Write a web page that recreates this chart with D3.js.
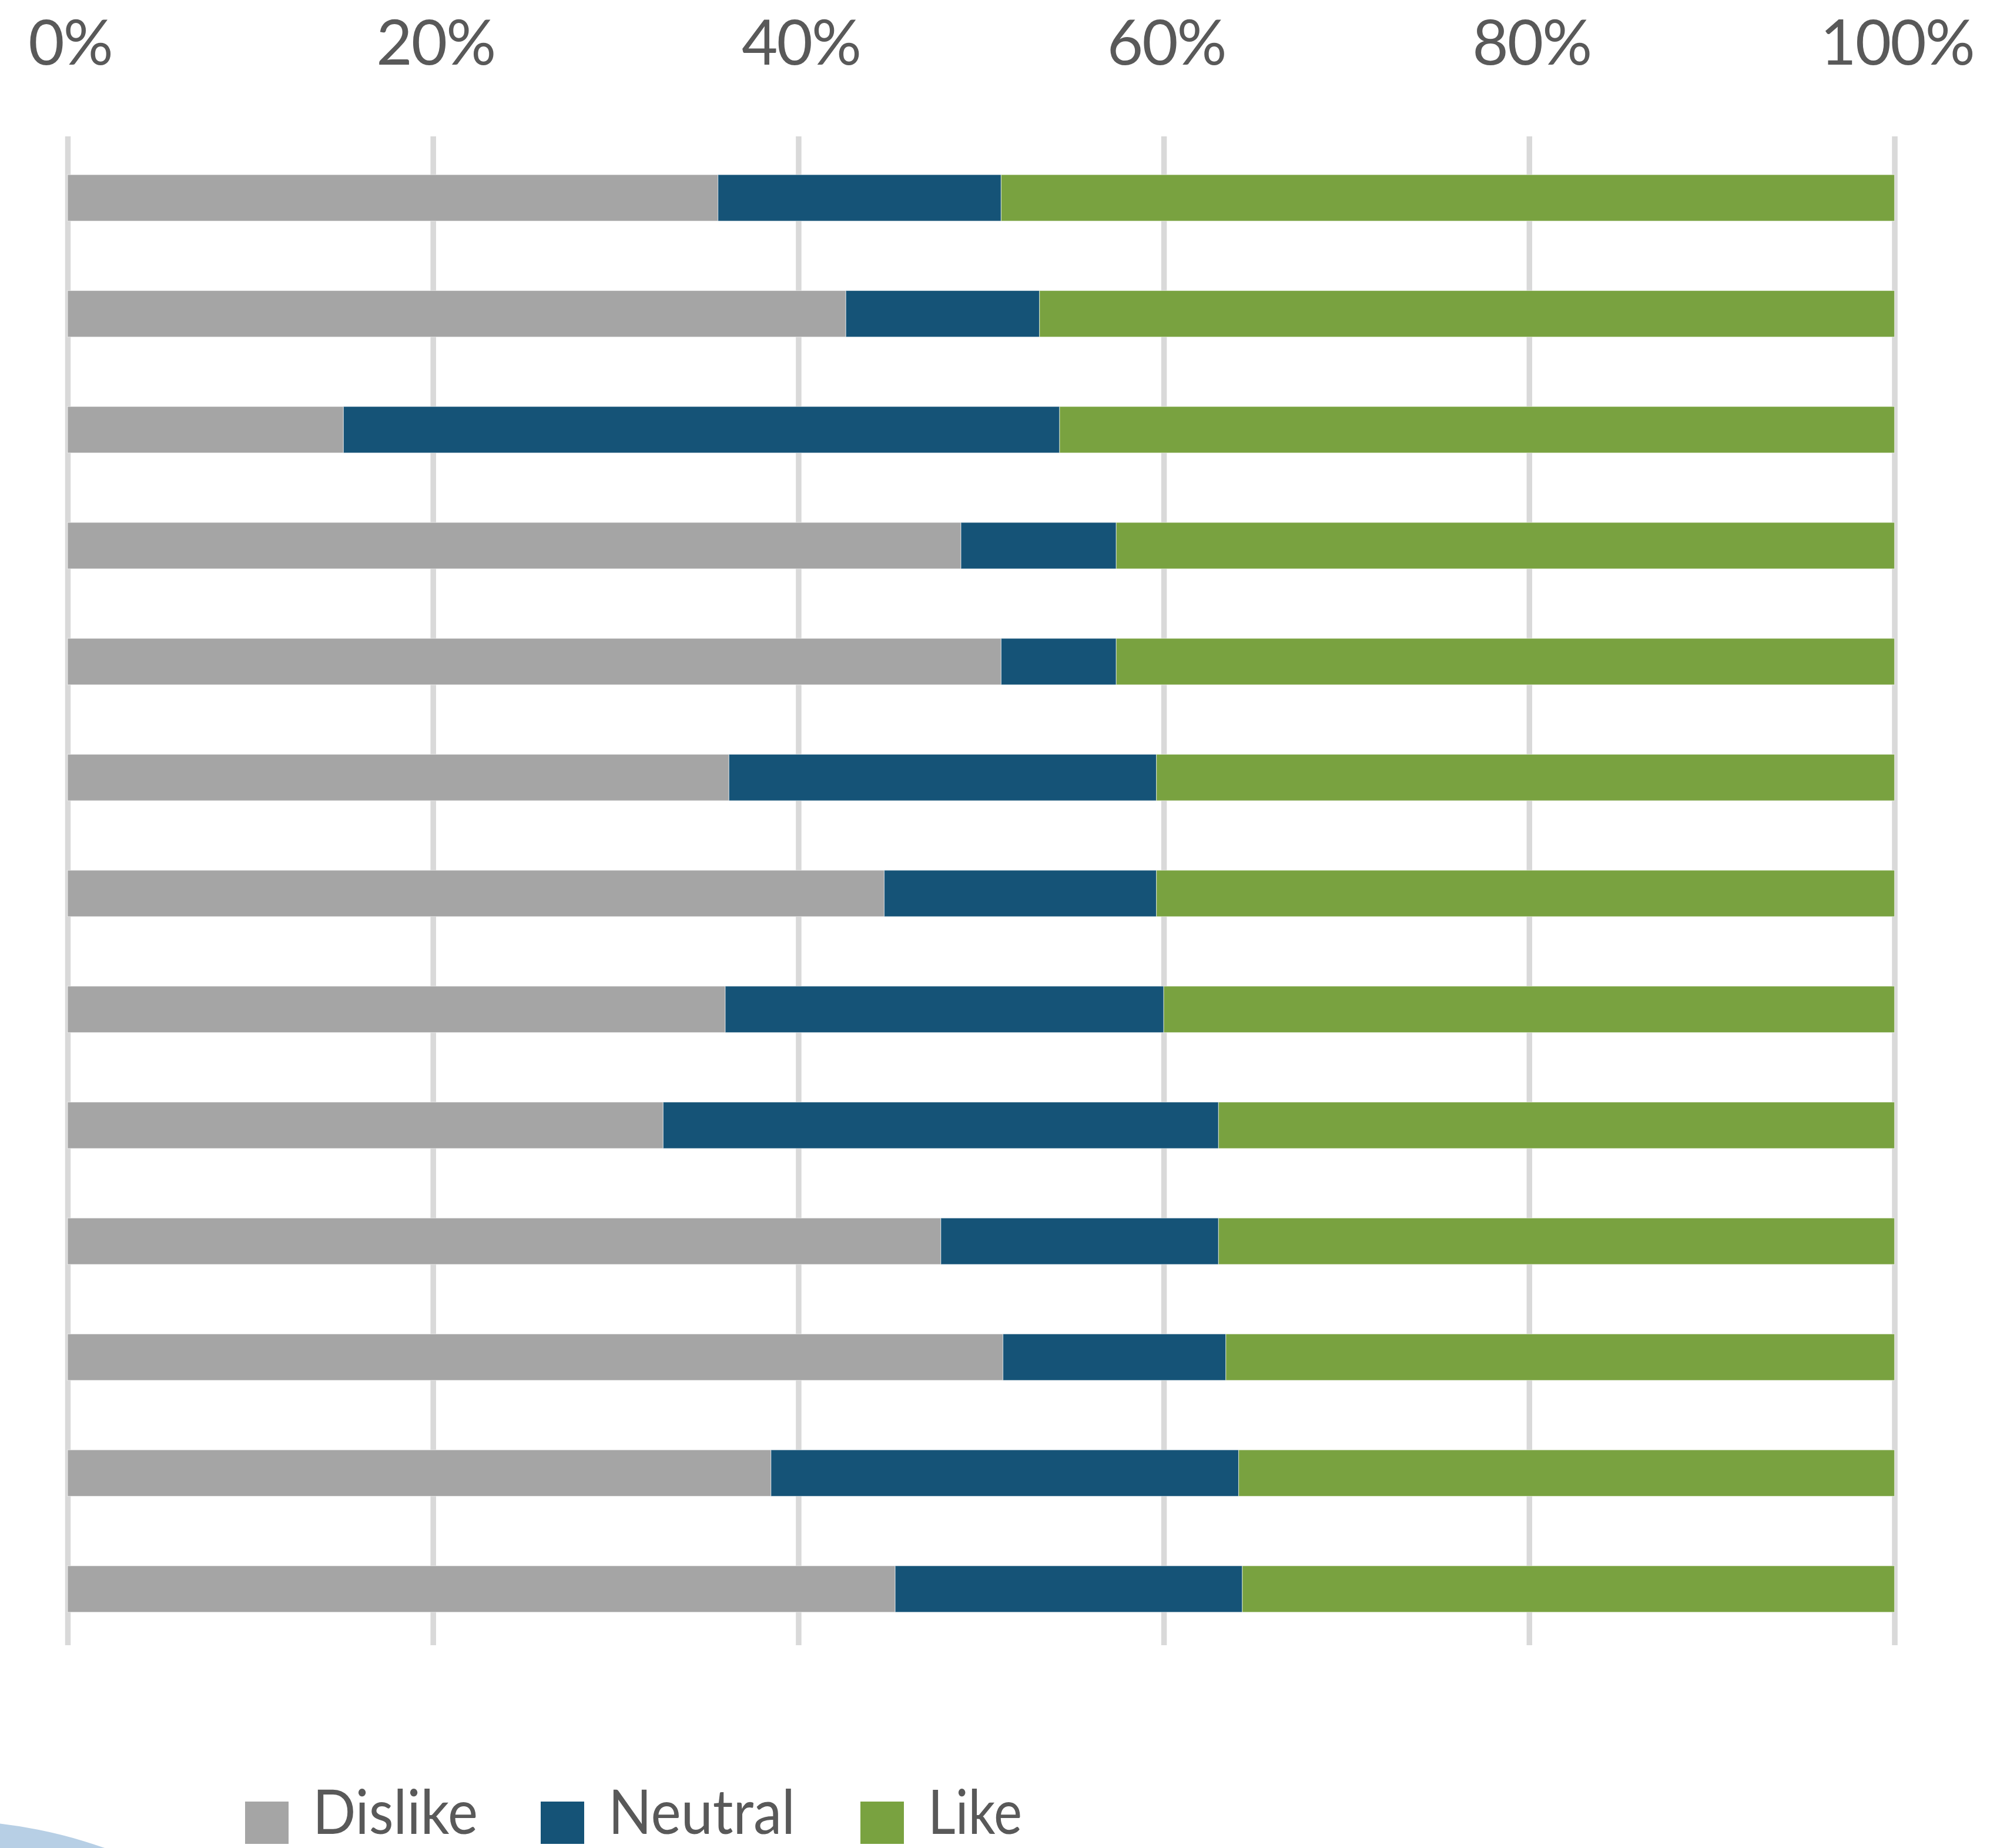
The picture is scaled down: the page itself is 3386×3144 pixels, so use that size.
<!DOCTYPE html>
<html>
<head>
<meta charset="utf-8">
<script src="https://cdn.jsdelivr.net/npm/d3@7"></script>
<style>
  html, body { margin: 0; padding: 0; background: #ffffff; }
  svg { display: block; }
</style>
</head>
<body>
<svg id="chart" width="3386" height="3144"></svg>
<script>
// ---- data (percent of respondents, top bar first) ----
const categories = ["Item 1","Item 2","Item 3","Item 4","Item 5","Item 6","Item 7","Item 8","Item 9","Item 10","Item 11","Item 12","Item 13"];
const seriesNames = ["Dislike", "Neutral", "Like"];
const dislike = [35.6, 42.6, 15.1, 48.9, 51.1, 36.2, 44.7, 36.0, 32.6, 47.8, 51.2, 38.5, 45.3];
const neutral = [15.5, 10.6, 39.2,  8.5,  6.3, 23.4, 14.9, 24.0, 30.4, 15.2, 12.2, 25.6, 19.0];
const like    = [48.9, 46.8, 45.7, 42.6, 42.6, 40.4, 40.4, 40.0, 37.0, 37.0, 36.6, 35.9, 35.7];
const tickValues = [0, 0.2, 0.4, 0.6, 0.8, 1.0];
const tickLabels = ["0%", "20%", "40%", "60%", "80%", "100%"];
const colors = ["#a5a5a5", "#155377", "#79a240"];

const svg = d3.select("#chart");
const textColor = "#595959";
const font = "Lato, 'Open Sans', 'DejaVu Sans', sans-serif";

// decorative light-blue circle at bottom-left
svg.append("circle")
  .attr("cx", -96).attr("cy", 3920).attr("r", 823)
  .attr("fill", "#b7cfe5");

// rows -> normalized stacked
const rows = categories.map((c, i) => {
  const tot = dislike[i] + neutral[i] + like[i];
  return { cat: c, Dislike: dislike[i] / tot, Neutral: neutral[i] / tot, Like: like[i] / tot };
});
const stacked = d3.stack().keys(seriesNames)(rows);

const x = d3.scaleLinear().domain([0, 1]).range([115, 3223.5]);
const y = d3.scaleBand().domain(categories).range([238, 2802]).paddingInner(0.6).paddingOuter(0.3);

const gridTop = 232, gridBottom = 2799;

// gridlines
const grid = svg.append("g")
  .attr("transform", `translate(0,${gridTop})`)
  .call(d3.axisBottom(x).tickValues(tickValues).tickSize(gridBottom - gridTop).tickFormat(""));
grid.select(".domain").remove();
grid.selectAll(".tick line").attr("stroke", "#d9d9d9").attr("stroke-width", 9.5);

// bars
const layers = svg.append("g").selectAll("g")
  .data(stacked).join("g")
  .attr("fill", (d, i) => colors[i]);
layers.selectAll("rect")
  .data(d => d)
  .join("rect")
  .attr("x", d => x(d[0]))
  .attr("y", d => y(d.data.cat))
  .attr("width", d => x(d[1]) - x(d[0]))
  .attr("height", y.bandwidth())
  .attr("stroke", "#ffffff")
  .attr("stroke-opacity", 0.5)
  .attr("stroke-width", 1.2);

// top tick labels
const labelAxis = svg.append("g")
  .attr("transform", `translate(4,110)`)
  .call(d3.axisTop(x).tickValues(tickValues).tickSize(0).tickPadding(0)
    .tickFormat((d, i) => tickLabels[i]));
labelAxis.select(".domain").remove();
labelAxis.selectAll("text")
  .attr("fill", textColor)
  .attr("font-family", font)
  .attr("font-size", 106)
  .attr("font-weight", 400)
  .attr("letter-spacing", -2)
  .attr("dy", 0);

// legend
const legendX = [417, 920, 1464];
const legendTextW = [281, 318, 160];
const legend = svg.append("g");
seriesNames.forEach((name, i) => {
  legend.append("rect")
    .attr("x", legendX[i]).attr("y", 3065)
    .attr("width", 74).attr("height", 72)
    .attr("fill", colors[i]);
  legend.append("text")
    .attr("x", legendX[i] + 115).attr("y", 3120)
    .attr("fill", textColor)
    .attr("font-family", font)
    .attr("font-size", 104)
    .attr("font-weight", 400)
    .attr("textLength", legendTextW[i])
    .attr("lengthAdjust", "spacingAndGlyphs")
    .text(name);
});
</script>
</body>
</html>
